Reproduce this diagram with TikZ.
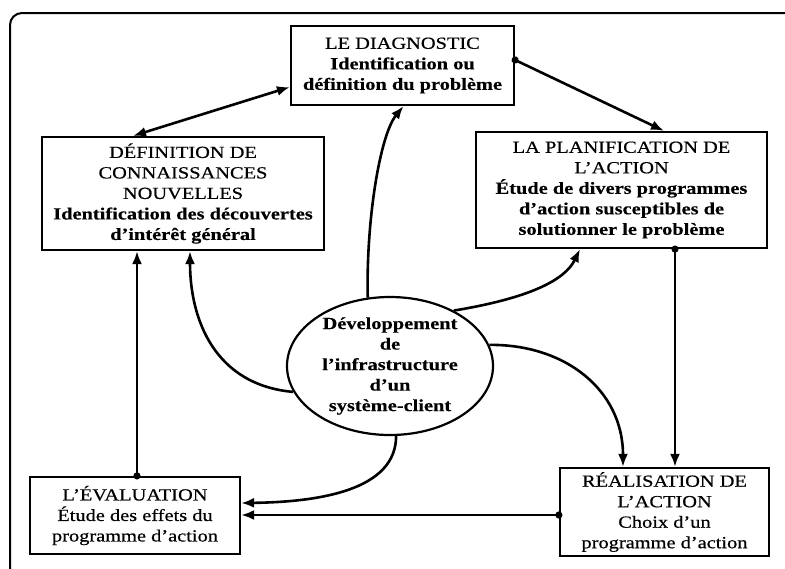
\documentclass[tikz,border=0pt]{standalone}
\usepackage{fontspec}
\setmainfont{Liberation Serif}[FakeStretch=1.2,
  UprightFeatures={FakeBold=0.5}, BoldFeatures={FakeBold=0.3}]
\usetikzlibrary{arrows.meta,shapes.geometric}
\begin{document}
\begin{tikzpicture}[x=1pt,y=-1pt,
  box/.style={draw,line width=2.2pt,inner sep=0pt,align=center,
    font=\fontsize{17}{20.5}\selectfont},
  oval/.style={box,ellipse},
  tip/.style={},
  link/.style={line width=2.6pt,-{Latex[length=13pt,width=10pt]}},
  dotlink/.style={link,{Circle[length=7pt]}-{Latex[length=13pt,width=10pt]},shorten <=-3.5pt},
  both/.style={link,{Latex[length=13pt,width=10pt]}-{Latex[length=13pt,width=10pt]}}]
\useasboundingbox (0,0) rectangle (785,568);
\clip (0,0) rectangle (785,568);
% outer frame
\draw[line width=2pt,rounded corners=12pt] (10,13) rectangle (800,580);

% the five stages and the centre
\node[box,minimum width=223pt,minimum height=79pt] (diag) at (402.5,65.5)
  {LE DIAGNOSTIC\\\textbf{Identification ou}\\\textbf{définition du problème}};
\node[box,minimum width=282pt,minimum height=113pt] (def) at (183,193.5)
  {DÉFINITION DE\\CONNAISSANCES\\NOUVELLES\\\textbf{Identification des découvertes}\\\textbf{d'intérêt général}};
\node[box,minimum width=291pt,minimum height=116pt] (plan) at (621.5,190)
  {LA PLANIFICATION DE\\L'ACTION\\\textbf{Étude de divers programmes}\\\textbf{d'action susceptibles de}\\\textbf{solutionner le problème}};
\node[box,minimum width=210pt,minimum height=77pt] (eval) at (135,515.5)
  {L'ÉVALUATION\\Étude des effets du\\programme d'action};
\node[box,minimum width=209pt,minimum height=88pt] (real) at (664.5,512)
  {RÉALISATION DE\\L'ACTION\\Choix d'un\\programme d'action};
\node[oval,minimum width=206pt,minimum height=138pt] (ell) at (390,366)
  {\textbf{Développement}\\\textbf{de}\\\textbf{l'infrastructure}\\\textbf{d'un}\\\textbf{système-client}};

% connectors between the stages
\draw[both] ([xshift=-50pt]def.north) -- ([yshift=-21.5pt]diag.west);
\draw[dotlink] ([yshift=5.5pt]diag.east) -- ([xshift=42.5pt]plan.north);
\draw[dotlink] ([xshift=53.5pt]plan.south) -- ([xshift=10.5pt]real.north);
\draw[dotlink] ([yshift=-3pt]real.west) -- ([yshift=0.5pt]eval.east);
\draw[dotlink] ([xshift=2pt]eval.north) -- ([xshift=-46pt]def.south);

% connectors leaving the centre
\draw[link] (ell.108) .. controls (366,220) and (380,135) .. ([xshift=1pt]diag.south);
\draw[link] (ell.195) .. controls (215,385) and (190,320) .. ([xshift=7pt]def.south);
\draw[link] (ell.41) .. controls (530,298) and (565,280) .. ([xshift=-41.5pt]plan.south);
\draw[link] (ell.12) .. controls (565,344) and (623,390) .. ([xshift=-41.5pt]real.north);
\draw[link] (ell.275) .. controls (396,490) and (320,502) .. ([yshift=12.5pt]eval.east);
\end{tikzpicture}
\end{document}
